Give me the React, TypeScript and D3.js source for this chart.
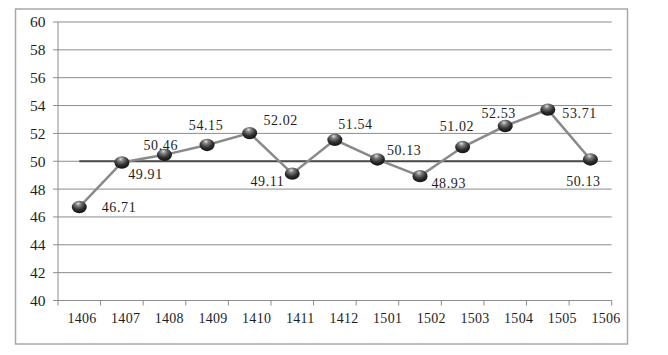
import React from "react";
import * as d3 from "d3";

const categories = ["1406","1407","1408","1409","1410","1411","1412","1501","1502","1503","1504","1505","1506"];
const values = [46.71, 49.91, 50.46, 51.17, 52.02, 49.11, 51.54, 50.13, 48.93, 51.02, 52.53, 53.71, 50.13];
const valueLabels = ["46.71","49.91","50.46","54.15","52.02","49.11","51.54","50.13","48.93","51.02","52.53","53.71","50.13"];
const referenceValue = 50;
const yTicks = [40, 42, 44, 46, 48, 50, 52, 54, 56, 58, 60];

// label placement offsets (layout only)
const labelOffsets: [number, number][] = [
  [39.7, 0], [23.6, 11.7], [-3.7, -10], [-1, -20.3], [31, -12.6], [-24.8, 7.7],
  [20.6, -15.5], [26.7, -9.3], [28.7, 6.5], [-5.7, -21.4], [-6.5, -12.7], [31.8, 4], [-7, 21.7],
];

const W = 668, H = 355;
const left = 58, right = 611.7, top = 22, bottom = 300.5;
const FONT = "'Liberation Serif', 'DejaVu Serif', serif";
const TEXT = "#1e1e1e";

export default function App() {
  const y = d3.scaleLinear().domain([40, 60]).range([bottom, top]);
  const xb = d3.scaleBand<string>().domain(categories).range([left, right]).paddingInner(0).paddingOuter(0);
  const xl = d3.scalePoint<string>().domain(categories).range([82, 606]);
  const cx = (c: string) => (xb(c) as number) + xb.bandwidth() / 2;
  const line = d3.line<number>().x((_, i) => cx(categories[i])).y((v) => y(v));
  const tickXs = [...categories.map((c) => xb(c) as number), right];

  return (
    <svg width={W} height={H} style={{ position: "absolute", left: 0, top: 0, display: "block", background: "#fff" }}>
      <defs>
        <radialGradient id="ball" cx="45%" cy="30%" r="70%" fx="42%" fy="22%">
          <stop offset="0%" stopColor="#e0e0e0" />
          <stop offset="25%" stopColor="#808080" />
          <stop offset="65%" stopColor="#2e2e2e" />
          <stop offset="100%" stopColor="#111" />
        </radialGradient>
      </defs>
      <rect x={15.5} y={9} width={612} height={335} fill="#fff" stroke="#a8a8a8" strokeWidth={1.5} />
      {yTicks.map((t) => (
        <g key={t}>
          <line x1={left - 5} x2={right} y1={y(t)} y2={y(t)} stroke="#8c8c8c" strokeWidth={1} />
          <text x={45.5} y={y(t)} dy="0.35em" textAnchor="end" fontFamily={FONT} fontSize={15.5} fill={TEXT}>{t}</text>
        </g>
      ))}
      <line x1={left} x2={left} y1={top} y2={bottom} stroke="#8c8c8c" strokeWidth={1} />
      {tickXs.map((tx, i) => (
        <line key={i} x1={tx} x2={tx} y1={bottom} y2={bottom + 5} stroke="#8c8c8c" strokeWidth={1} />
      ))}
      {categories.map((c) => (
        <text key={c} x={xl(c)} y={322.5} textAnchor="middle" fontFamily={FONT} fontSize={14} letterSpacing={0.3} fill={TEXT}>{c}</text>
      ))}
      <line x1={cx(categories[0])} x2={cx(categories[categories.length - 1])} y1={y(referenceValue)} y2={y(referenceValue)} stroke="#4a4a4a" strokeWidth={2} />
      <path d={line(values) || ""} fill="none" stroke="#8a8a8a" strokeWidth={2.5} />
      {values.map((v, i) => (
        <ellipse key={i} cx={cx(categories[i])} cy={y(v)} rx={7.5} ry={6.2} fill="url(#ball)" />
      ))}
      {values.map((v, i) => (
        <text key={"l" + i} x={cx(categories[i]) + labelOffsets[i][0]} y={y(v) + labelOffsets[i][1]} dy="0.35em"
          textAnchor="middle" fontFamily={FONT} fontSize={14} letterSpacing={0.6} fill={TEXT}>{valueLabels[i]}</text>
      ))}
    </svg>
  );
}
